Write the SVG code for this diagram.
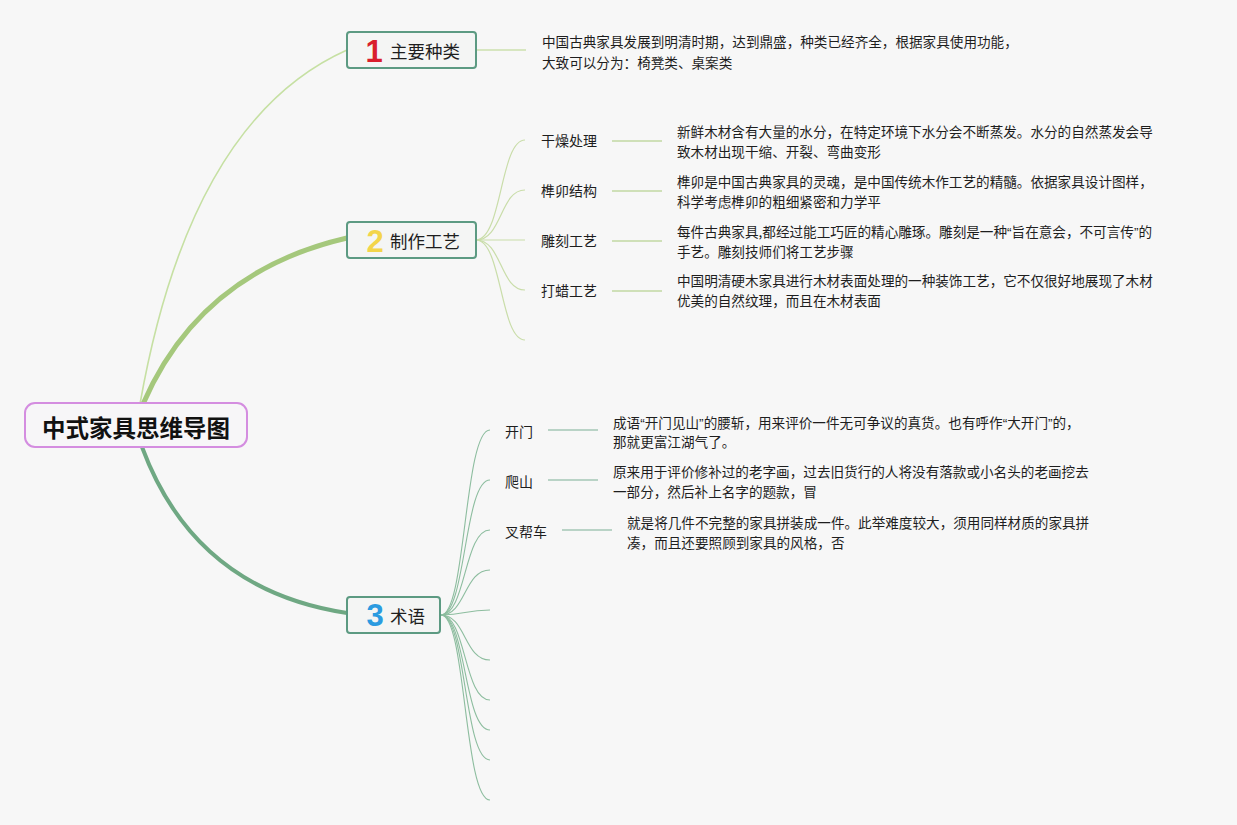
<svg xmlns="http://www.w3.org/2000/svg" width="1237" height="825" viewBox="0 0 1237 825">
<style>
.bg{fill:#f7f7f7}
.root{fill:#f7f6f8;stroke:#d48de0;stroke-width:2}
.main{fill:#f4f5f4;stroke:#5c9a82;stroke-width:2}
.t{font-family:"Noto Sans CJK SC","Noto Sans",sans-serif;fill:#1e1e1e}
.q{font-family:"Liberation Sans","Noto Sans",sans-serif}
.title{font-size:23.5px;font-weight:bold;fill:#111}
.lbl{font-size:17.5px}
.sub{font-size:14px}
.desc{font-size:13.6px}
.num{font-family:"Liberation Sans","DejaVu Sans",sans-serif;font-size:31px;font-weight:bold;text-anchor:middle}
.c2{fill:none;stroke:#c9dda9;stroke-width:1.2}
.c3{fill:none;stroke:#8dbd9f;stroke-width:1.1}
.l1{fill:none;stroke:#d7e6c0;stroke-width:2}
.l2{fill:none;stroke:#cfe0b8;stroke-width:2}
.l3{fill:none;stroke:#b9d3c6;stroke-width:2}
</style>
<rect class="bg" x="0" y="0" width="1237" height="825"/>
<g id="connectors">
<path d="M140,404 Q190,120 347,50" fill="none" stroke="#c6e0a3" stroke-width="1.6"/>
<path d="M143,404 Q200,272 347,238" fill="none" stroke="#a5c87c" stroke-width="5"/>
<path d="M142,447 Q195,590 347,613" fill="none" stroke="#6fa883" stroke-width="4"/>
<path class="l1" d="M477,50 H526"/>
<path class="c2" d="M476,240 C502,240 500,140 525,140"/>
<path class="c2" d="M476,240 C502,240 500,190 525,190"/>
<path class="c2" d="M476,240 H525"/>
<path class="c2" d="M476,240 C502,240 500,290 525,290"/>
<path class="c2" d="M476,240 C502,240 500,340 525,340"/>
<path class="l2" d="M612,141 H662"/>
<path class="l2" d="M612,191 H662"/>
<path class="l2" d="M612,241 H662"/>
<path class="l2" d="M612,291 H662"/>
<path class="c3" d="M441,615 C466,615 464,430 490,430"/>
<path class="c3" d="M441,615 C466,615 464,480 490,480"/>
<path class="c3" d="M441,615 C466,615 464,530 490,530"/>
<path class="c3" d="M441,615 C466,615 464,570 490,570"/>
<path class="c3" d="M441,615 C466,615 464,610 490,610"/>
<path class="c3" d="M441,615 C466,615 464,660 490,660"/>
<path class="c3" d="M441,615 C466,615 464,700 490,700"/>
<path class="c3" d="M441,615 C466,615 464,730 490,730"/>
<path class="c3" d="M441,615 C466,615 464,760 490,760"/>
<path class="c3" d="M441,615 C466,615 464,800 490,800"/>
<path class="l3" d="M548,430 H598"/>
<path class="l3" d="M548,480 H598"/>
<path class="l3" d="M562,530 H612"/>
</g>
<g id="root">
<rect class="root" x="25" y="403" width="222" height="44" rx="10"/>
<text class="t title" x="136" y="437" text-anchor="middle">中式家具思维导图</text>
</g>
<g id="n1">
<rect class="main" x="347" y="32" width="129" height="36" rx="3"/>
<text class="num" x="374" y="62" fill="#d91f2d">1</text>
<text class="t lbl" x="390" y="58">主要种类</text>
</g>
<g id="n1-desc">
<text class="t desc" x="542" y="46.5">中国古典家具发展到明清时期，达到鼎盛，种类已经齐全，根据家具使用功能，</text>
<text class="t desc" x="542" y="67.5">大致可以分为：椅凳类、桌案类</text>
</g>
<g id="n2">
<rect class="main" x="347" y="222" width="129" height="36" rx="3"/>
<text class="num" x="375" y="252" fill="#f3d54a">2</text>
<text class="t lbl" x="390" y="248">制作工艺</text>
</g>
<g id="n2-1">
<text class="t sub" x="541" y="146">干燥处理</text>
<text class="t desc" x="677" y="136.5">新鲜木材含有大量的水分，在特定环境下水分会不断蒸发。水分的自然蒸发会导</text>
<text class="t desc" x="677" y="156.5">致木材出现干缩、开裂、弯曲变形</text>
</g>
<g id="n2-2">
<text class="t sub" x="541" y="196">榫卯结构</text>
<text class="t desc" x="677" y="186.5">榫卯是中国古典家具的灵魂，是中国传统木作工艺的精髓。依据家具设计图样，</text>
<text class="t desc" x="677" y="207">科学考虑榫卯的粗细紧密和力学平</text>
</g>
<g id="n2-3">
<text class="t sub" x="541" y="246">雕刻工艺</text>
<text class="t desc" x="677" y="236.5">每件古典家具,都经过能工巧匠的精心雕琢。雕刻是一种<tspan class="q">“</tspan>旨在意会，不可言传<tspan class="q">”</tspan>的</text>
<text class="t desc" x="677" y="256.5">手艺。雕刻技师们将工艺步骤</text>
</g>
<g id="n2-4">
<text class="t sub" x="541" y="296">打蜡工艺</text>
<text class="t desc" x="677" y="285.5">中国明清硬木家具进行木材表面处理的一种装饰工艺，它不仅很好地展现了木材</text>
<text class="t desc" x="677" y="306">优美的自然纹理，而且在木材表面</text>
</g>
<g id="n3">
<rect class="main" x="347" y="597" width="93" height="36" rx="3"/>
<text class="num" x="375" y="626" fill="#2b9be0">3</text>
<text class="t lbl" x="390" y="622.5">术语</text>
</g>
<g id="n3-1">
<text class="t sub" x="505" y="437">开门</text>
<text class="t desc" x="613" y="427.5">成语<tspan class="q">“</tspan>开门见山<tspan class="q">”</tspan>的腰斩，用来评价一件无可争议的真货。也有呼作<tspan class="q">“</tspan>大开门<tspan class="q">”</tspan>的，</text>
<text class="t desc" x="613" y="446.5">那就更富江湖气了。</text>
</g>
<g id="n3-2">
<text class="t sub" x="505" y="487">爬山</text>
<text class="t desc" x="613" y="476.5">原来用于评价修补过的老字画，过去旧货行的人将没有落款或小名头的老画挖去</text>
<text class="t desc" x="613" y="496.5">一部分，然后补上名字的题款，冒</text>
</g>
<g id="n3-3">
<text class="t sub" x="505" y="537">叉帮车</text>
<text class="t desc" x="627" y="528">就是将几件不完整的家具拼装成一件。此举难度较大，须用同样材质的家具拼</text>
<text class="t desc" x="627" y="547.5">凑，而且还要照顾到家具的风格，否</text>
</g>
</svg>
